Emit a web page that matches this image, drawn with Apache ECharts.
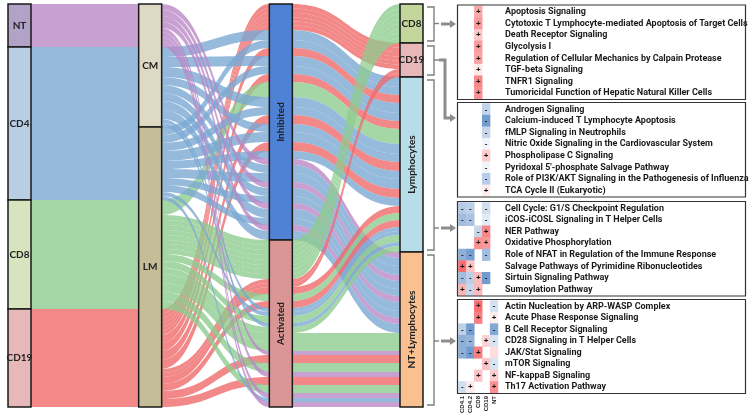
<!DOCTYPE html>
<html><head><meta charset="utf-8">
<script src="https://cdn.jsdelivr.net/npm/echarts@6/dist/echarts.min.js"></script>
<style>html,body{margin:0;padding:0;background:#fff}#c{width:750px;height:418px}</style>
</head><body><div id="c"></div><script>
// ---------------- data ----------------
const cellTypes = ['NT', 'CD4', 'CD8', 'CD19'];
const memoryNodes = ['CM', 'LM'];
const directionNodes = ['Inhibited', 'Activated'];
const groupNodes = ['CD8', 'CD19', 'Lymphocytes', 'NT+Lymphocytes'];
const heatColumns = ['CD4.1', 'CD4.2', 'CD8', 'CD19', 'NT'];
const columnCell = ['CD4', 'CD4', 'CD8', 'CD19', 'NT'];
const columnMemory = ['CM', 'LM', 'LM', 'LM', 'CM'];

const pathwaysCD8 = ['Apoptosis Signaling', 'Cytotoxic T Lymphocyte-mediated Apoptosis of Target Cells', 'Death Receptor Signaling', 'Glycolysis I', 'Regulation of Cellular Mechanics by Calpain Protease', 'TGF-beta Signaling', 'TNFR1 Signaling', 'Tumoricidal Function of Hepatic Natural Killer Cells'];
const pathwaysCD19 = ['Androgen Signaling', 'Calcium-induced T Lymphocyte Apoptosis', 'fMLP Signaling in Neutrophils', 'Nitric Oxide Signaling in the Cardiovascular System', 'Phospholipase C Signaling', "Pyridoxal 5'-phosphate Salvage Pathway", 'Role of PI3K/AKT Signaling in the Pathogenesis of Influenza', 'TCA Cycle II (Eukaryotic)'];
const pathwaysLymph = ['Cell Cycle: G1/S Checkpoint Regulation', 'iCOS-iCOSL Signaling in T Helper Cells', 'NER Pathway', 'Oxidative Phosphorylation', 'Role of NFAT in Regulation of the Immune Response', 'Salvage Pathways of Pyrimidine Ribonucleotides', 'Sirtuin Signaling Pathway', 'Sumoylation Pathway'];
const pathwaysNTL = ['Actin Nucleation by ARP-WASP Complex', 'Acute Phase Response Signaling', 'B Cell Receptor Signaling', 'CD28 Signaling in T Helper Cells', 'JAK/Stat Signaling', 'mTOR Signaling', 'NF-kappaB Signaling', 'Th17 Activation Pathway'];

// z-scores per pathway (columns: CD4.1, CD4.2, CD8, CD19, NT)
const heatCD8 = [
  [null, null, 2.0, null, null], [null, null, 2.4, null, null], [null, null, 1.3, null, null], [null, null, 2.3, null, null],
  [null, null, 2.2, null, null], [null, null, 0.5, null, null], [null, null, 2.8, null, null], [null, null, 2.6, null, null]];
const heatCD19 = [
  [null, null, null, -1.3, null], [null, null, null, -3.0, null], [null, null, null, -1.2, null], [null, null, null, -0.3, null],
  [null, null, null, 1.2, null], [null, null, null, -0.3, null], [null, null, null, -1.5, null], [null, null, null, 0.4, null]];
const heatLymph = [
  [-1.6, -1.4, null, -1.0, null], [-2.0, -1.8, null, -0.6, null], [null, null, -1.2, 2.8, null], [null, null, 2.6, 2.4, null],
  [-2.4, -2.9, null, -2.0, null], [3.4, 1.4, null, null, null], [-2.0, -1.4, 1.6, -3.0, null], [1.8, -1.2, 1.6, null, null]];
const heatNTL = [
  [null, null, 3.4, null, -0.9], [null, null, 3.0, null, 0.4], [-1.4, -3.0, null, null, -2.6], [-2.4, -2.2, null, 1.0, -0.8],
  [-2.4, -3.0, 3.0, null, 0.8], [null, null, null, 1.4, -0.8], [null, null, 1.4, null, 1.2], [-1.0, 0.5, null, null, 2.6]];
// cells shown coloured but without a +/- sign: [group, row, column]
const unsignedCells = [[3, 4, 4]];

// alluvial strand widths for each coloured cell
const widthCD8 = [[0,0,5,0,0],[0,0,5,0,0],[0,0,5,0,0],[0,0,5,0,0],[0,0,5,0,0],[0,0,4,0,0],[0,0,5,0,0],[0,0,5,0,0]];
const widthCD19 = [[0,0,0,4.5,0],[0,0,0,4.5,0],[0,0,0,4.5,0],[0,0,0,4,0],[0,0,0,4,0],[0,0,0,4,0],[0,0,0,4.5,0],[0,0,0,4,0]];
const widthLymph = [[10,8,0,8,0],[10,8,0,8,0],[0,0,15,7,0],[0,0,7,7,0],[10,8,0,9,0],[4,4,0,0,0],[8,10,7,9,0],[4,8,6,0,0]];
const widthNTL = [[0,0,9,0,6],[0,0,9,0,4],[8,9,0,0,6],[8,7,0,8,6],[9,7,9,0,5],[0,0,0,8,6],[0,0,8,0,5],[9,4,0,0,5]];

// ---------------- styles / layout ----------------
const SK = {left: 8, top: 4, width: 415, height: 403, nodeWidth: 23};
const cellColor = {NT: '#ba88c7', CD4: '#7ca9d3', CD8: '#8ecc8e', CD19: '#ef6a6a'};
const nodeFill = {
  'c:NT': '#b3a2c7', 'c:CD4': '#b9cde5', 'c:CD8': '#d7e4bd', 'c:CD19': '#e6b9b8',
  'm:CM': '#ddd9c4', 'm:LM': '#c4bd97',
  'd:Inhibited': '#4f81d5', 'd:Activated': '#d99694',
  'g:CD8': '#c3d69b', 'g:CD19': '#e6b9b8', 'g:Lymphocytes': '#b7dee8', 'g:NT+Lymphocytes': '#fac090'
};
const rotatedNodes = ['d:Inhibited', 'd:Activated', 'g:Lymphocytes', 'g:NT+Lymphocytes'];
const boxTops = [5, 102.5, 201.5, 299.5];
const boxHeights = [94.5, 94.5, 94.5, 94];
const arrowYs = [24, 118, 228, 341];

const groups = [
  {name: 'CD8', pathways: pathwaysCD8, heat: heatCD8, width: widthCD8},
  {name: 'CD19', pathways: pathwaysCD19, heat: heatCD19, width: widthCD19},
  {name: 'Lymphocytes', pathways: pathwaysLymph, heat: heatLymph, width: widthLymph},
  {name: 'NT+Lymphocytes', pathways: pathwaysNTL, heat: heatNTL, width: widthNTL}
];

// ---------------- build strands ----------------
const strands = [];
groups.forEach((g, gi) => g.heat.forEach((row, ri) => row.forEach((v, ci) => {
  const w = g.width[ri][ci];
  if (v != null && w > 0) strands.push({gi, ri, ci, v, w, cell: columnCell[ci], mem: columnMemory[ci],
    dir: v > 0 ? 'Activated' : 'Inhibited', group: g.name});
})));
const ordered = directionNodes.flatMap(d => strands.filter(s => s.dir === d));

// series A: coloured strands
const subMem = [['CM','NT'],['CM','CD4'],['LM','CD4'],['LM','CD8'],['LM','CD19']];
const nodesA = [];
const linksA = [];
cellTypes.forEach(c => nodesA.push({name: 'c:' + c, depth: 0}));
subMem.forEach(([m, c]) => {
  nodesA.push({name: 'm:' + m + ':' + c, depth: 1});
  const val = strands.filter(s => s.mem === m && s.cell === c).reduce((a, s) => a + s.w, 0);
  linksA.push({source: 'c:' + c, target: 'm:' + m + ':' + c, value: val, lineStyle: {color: cellColor[c]}});
});
ordered.forEach((s, i) => {
  nodesA.push({name: 's:' + i, depth: 2});
  linksA.push({source: 'm:' + s.mem + ':' + s.cell, target: 's:' + i, value: s.w, lineStyle: {color: cellColor[s.cell]}});
  linksA.push({source: 's:' + i, target: 'g:' + s.group, value: s.w, lineStyle: {color: cellColor[s.cell]}});
});
groupNodes.forEach(g => nodesA.push({name: 'g:' + g, depth: 3}));

// series B: node boxes + labels
const nodesB = [];
const linksB = [];
const mk = (id, disp, depth) => {
  const n = {name: id, disp, depth, itemStyle: {color: nodeFill[id]}};
  if (rotatedNodes.includes(id)) n.label = {rotate: 90};
  nodesB.push(n);
};
cellTypes.forEach(c => mk('c:' + c, c, 0));
memoryNodes.forEach(m => mk('m:' + m, m, 1));
directionNodes.forEach(d => mk('d:' + d, d, 2));
groupNodes.forEach(g => mk('g:' + g, g, 3));
const addSum = (src, tgt, f) => {
  const v = strands.filter(f).reduce((a, s) => a + s.w, 0);
  if (v > 0) linksB.push({source: src, target: tgt, value: v});
};
cellTypes.forEach(c => memoryNodes.forEach(m => addSum('c:' + c, 'm:' + m, s => s.cell === c && s.mem === m)));
memoryNodes.forEach(m => directionNodes.forEach(d => addSum('m:' + m, 'd:' + d, s => s.mem === m && s.dir === d)));
directionNodes.forEach(d => groupNodes.forEach(g => addSum('d:' + d, 'g:' + g, s => s.dir === d && s.group === g)));

// ---------------- heatmap ----------------
const heatData = groups.map((g, gi) => {
  const out = [];
  g.heat.forEach((row, ri) => row.forEach((v, ci) => {
    if (v == null) return;
    const unsigned = unsignedCells.some(u => u[0] === gi && u[1] === ri && u[2] === ci);
    out.push({value: [ci, ri, v], sign: unsigned ? '' : (v > 0 ? '+' : '-')});
  }));
  return out;
});

// ---------------- decorations ----------------
const total = strands.reduce((a, s) => a + s.w, 0);
const ky = SK.height / total;
const groupExt = [];
let acc = 0;
groupNodes.forEach(g => {
  const v = strands.filter(s => s.group === g).reduce((a, s) => a + s.w, 0);
  groupExt.push([SK.top + acc * ky, SK.top + (acc + v) * ky]);
  acc += v;
});
const graphics = [];
const gray = '#7f7f7f';
groupExt.forEach(([y0, y1], i) => {
  graphics.push({type: 'polyline', silent: true, shape: {points: [[427, y0 + 3], [434, y0 + 3], [434, y1 - 2], [427, y1 - 2]]}, style: {stroke: gray, lineWidth: 1.4, fill: null}});
  const tickY = i < 2 ? (y0 + y1) / 2 : arrowYs[i];
  graphics.push({type: 'polyline', silent: true, shape: {points: [[434, tickY], [439, tickY]]}, style: {stroke: gray, lineWidth: 1.4}});
});
const arrowPaths = [
  [[441, arrowYs[0]], [451, arrowYs[0]]],
  [[439, (groupExt[1][0] + groupExt[1][1]) / 2], [445, (groupExt[1][0] + groupExt[1][1]) / 2], [445, arrowYs[1]], [451, arrowYs[1]]],
  [[441, arrowYs[2]], [451, arrowYs[2]]],
  [[441, arrowYs[3]], [451, arrowYs[3]]]
];
arrowPaths.forEach((pts, i) => {
  graphics.push({type: 'polyline', silent: true, shape: {points: pts}, style: {stroke: '#8c8c8c', lineWidth: 3, fill: null, lineJoin: 'miter'}});
  const y = arrowYs[i];
  graphics.push({type: 'polygon', silent: true, shape: {points: [[450, y - 4], [456, y], [450, y + 4]]}, style: {fill: '#8c8c8c'}});
});
boxTops.forEach((t, i) => graphics.push({type: 'rect', silent: true, z: 10, shape: {x: 457.5, y: t, width: 288, height: boxHeights[i]}, style: {fill: null, stroke: '#333', lineWidth: 1.2}}));

// ---------------- chart ----------------
const chart = echarts.init(document.getElementById('c'), null, {renderer: 'canvas'});
const labelFont = "Roboto, 'Liberation Sans', sans-serif";
const tinyFont = "'Liberation Sans Narrow', 'Liberation Sans', sans-serif";
const sankeyCommon = {type: 'sankey', left: SK.left, top: SK.top, width: SK.width, height: SK.height,
  nodeWidth: SK.nodeWidth, nodeGap: 0, layoutIterations: 0, draggable: false, silent: true, animation: false,
  emphasis: {disabled: true}};
chart.setOption({
  animation: false,
  grid: groups.map((g, i) => ({left: 458.5, top: boxTops[i] + 1, width: 39.5, height: boxHeights[i] - 1.5, show: false,
    containLabel: false, outerBoundsMode: 'none'})),
  xAxis: groups.map((g, i) => ({type: 'category', gridIndex: i, data: heatColumns, axisLine: {show: false}, axisTick: {show: false}, splitLine: {show: false},
    axisLabel: {show: i === 3, rotate: 90, fontSize: 6, margin: 3, fontWeight: 'bold', color: '#222', fontFamily: tinyFont, interval: 0}})),
  yAxis: groups.map((g, i) => ({type: 'category', gridIndex: i, data: g.pathways, inverse: true, position: 'right',
    axisLine: {show: false}, axisTick: {show: false}, splitLine: {show: false},
    axisLabel: {margin: 7, fontSize: 9, fontWeight: 'bold', color: '#1a1a1a', fontFamily: labelFont, interval: 0}})),
  visualMap: {type: 'continuous', show: false, min: -3.5, max: 3.5, dimension: 2, seriesIndex: [2, 3, 4, 5],
    inRange: {color: ['#5a8ac6', '#ffffff', '#f8696b']}},
  graphic: {elements: graphics},
  series: [
    Object.assign({}, sankeyCommon, {z: 1, data: nodesA, links: linksA, label: {show: false}, itemStyle: {opacity: 0},
      lineStyle: {opacity: 0.8, curveness: 0.5}}),
    Object.assign({}, sankeyCommon, {z: 3, data: nodesB, links: linksB,
      itemStyle: {borderColor: '#1a1a1a', borderWidth: 1.5},
      lineStyle: {opacity: 0},
      label: {show: true, position: 'inside', fontFamily: 'Lato, sans-serif', fontSize: 10, fontWeight: 'bold', color: '#222',
        formatter: p => p.data.disp}}),
  ].concat(groups.map((g, i) => ({type: 'heatmap', xAxisIndex: i, yAxisIndex: i, data: heatData[i], silent: true,
    emphasis: {disabled: true},
    label: {show: true, formatter: p => p.data.sign, fontSize: 8, fontWeight: 'bold', color: '#111', fontFamily: 'Arial, sans-serif'}})))
});
</script></body></html>
